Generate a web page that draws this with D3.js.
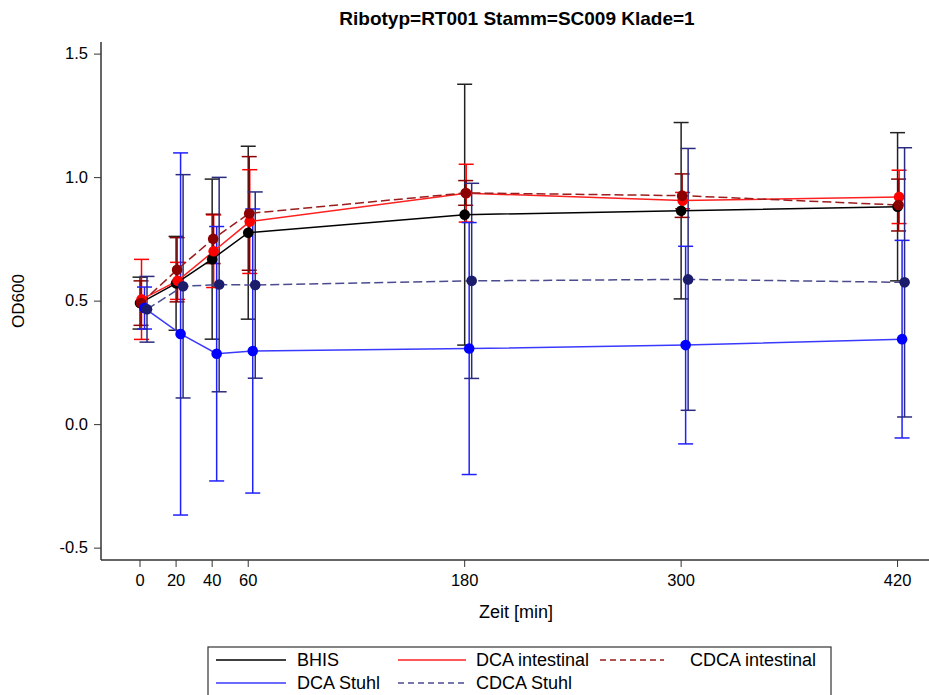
<!DOCTYPE html>
<html>
<head>
<meta charset="utf-8">
<script src="https://cdn.jsdelivr.net/npm/d3@7"></script>
<style>
  body { margin: 0; background: #fff; }
  text { font-family: "Liberation Sans", Arial, sans-serif; fill: #000; }
</style>
</head>
<body>
<svg id="chart" width="929" height="695"></svg>
<script>
// ---------- data ----------
const times = [0, 20, 40, 60, 180, 300, 420];
const xTickLabels = ["0", "20", "40", "60", "180", "300", "420"];
const yTickValues = [-0.5, 0.0, 0.5, 1.0, 1.5];
const yTickLabels = ["-0.5", "0.0", "0.5", "1.0", "1.5"];

const bhisMean      = [0.490, 0.570, 0.668, 0.775, 0.848, 0.864, 0.880];
const bhisErr       = [0.105, 0.190, 0.324, 0.350, 0.528, 0.357, 0.300];
const dcaIntMean    = [0.505, 0.580, 0.700, 0.820, 0.935, 0.905, 0.920];
const dcaIntErr     = [0.162, 0.075, 0.147, 0.210, 0.117, 0.033, 0.108];
const cdcaIntMean   = [0.490, 0.625, 0.750, 0.853, 0.936, 0.925, 0.887];
const cdcaIntErr    = [0.090, 0.130, 0.100, 0.230, 0.050, 0.088, 0.105];
const dcaStuhlMean  = [0.470, 0.365, 0.285, 0.296, 0.306, 0.320, 0.344];
const dcaStuhlErr   = [0.085, 0.733, 0.515, 0.575, 0.510, 0.400, 0.400];
const cdcaStuhlMean = [0.465, 0.558, 0.565, 0.563, 0.580, 0.586, 0.574];
const cdcaStuhlErr  = [0.133, 0.452, 0.434, 0.377, 0.395, 0.530, 0.545];

const seriesNames = ["BHIS", "DCA intestinal", "CDCA intestinal", "DCA Stuhl", "CDCA Stuhl"];

// ---------- styling / config ----------
const series = [
  { name: seriesNames[0], mean: bhisMean,      err: bhisErr,      color: "#000000", bar: "#222222", marker: "#000000", dash: null,  shift: 0.5 },
  { name: seriesNames[1], mean: dcaIntMean,    err: dcaIntErr,    color: "#ff2020", bar: "#ff0000", marker: "#ff0000", dash: null,  shift: 2 },
  { name: seriesNames[2], mean: cdcaIntMean,   err: cdcaIntErr,   color: "#9b1c1c", bar: "#8b0000", marker: "#8b0000", dash: "9,4", shift: 1.5 },
  { name: seriesNames[3], mean: dcaStuhlMean,  err: dcaStuhlErr,  color: "#3a3aff", bar: "#2020ff", marker: "#0000ff", dash: null,  shift: 5 },
  { name: seriesNames[4], mean: cdcaStuhlMean, err: cdcaStuhlErr, color: "#4b4b90", bar: "#2a2a80", marker: "#1c1c6c", dash: "9,4", shift: 7.5 }
];

const svg = d3.select("#chart");
const pLeft = 101, pRight = 929, pTop = 42, pBottom = 560;
const FONT = "'Liberation Sans', Arial, sans-serif";

const x = d3.scaleLinear().domain([-21.35, 437.7]).range([pLeft, pRight]);
const y = d3.scaleLinear().domain([-0.55, 1.547]).range([pBottom, pTop]);

// title
svg.append("text")
  .attr("x", 517).attr("y", 25)
  .attr("text-anchor", "middle")
  .style("font-size", "19px").style("font-weight", "bold")
  .text("Ribotyp=RT001 Stamm=SC009 Klade=1");

// axes
const yAxis = d3.axisLeft(y).tickValues(yTickValues).tickFormat((d, i) => yTickLabels[i])
  .tickSize(7).tickSizeOuter(0).tickPadding(6);
const gy = svg.append("g").attr("transform", `translate(${pLeft},0)`).call(yAxis);
gy.select(".domain").remove();
gy.selectAll("line").attr("stroke", "#333");
gy.selectAll("text").style("font-size", "16.5px").style("font-family", FONT).attr("fill", "#333");

const xAxis = d3.axisBottom(x).tickValues(times).tickFormat((d, i) => xTickLabels[i])
  .tickSize(7).tickSizeOuter(0).tickPadding(7);
const gx = svg.append("g").attr("transform", `translate(0,${pBottom})`).call(xAxis);
gx.select(".domain").remove();
gx.selectAll("line").attr("stroke", "#333");
gx.selectAll("text").style("font-size", "16.5px").style("font-family", FONT).attr("fill", "#333");

// axis lines
svg.append("line").attr("x1", pLeft).attr("x2", pLeft).attr("y1", pTop).attr("y2", pBottom)
  .attr("stroke", "#333").attr("stroke-width", 1.5);
svg.append("line").attr("x1", pLeft).attr("x2", pRight).attr("y1", pBottom).attr("y2", pBottom)
  .attr("stroke", "#333").attr("stroke-width", 1.5);

// axis labels
svg.append("text").attr("x", 516).attr("y", 618).attr("text-anchor", "middle")
  .style("font-size", "18px").attr("fill", "#333").text("Zeit [min]");
svg.append("text").attr("transform", `translate(24,${(pTop + pBottom) / 2}) rotate(-90)`)
  .attr("text-anchor", "middle").style("font-size", "17px").attr("fill", "#333").text("OD600");

// plot
const plot = svg.append("g");
const capW = 7.5;

series.forEach(s => {
  const pts = times.map((t, i) => ({ t, m: s.mean[i], e: s.err[i] }));
  const g = plot.append("g");
  pts.forEach(p => {
    const px = x(p.t) + s.shift;
    g.append("line").attr("x1", px).attr("x2", px).attr("y1", y(p.m - p.e)).attr("y2", y(p.m + p.e))
      .attr("stroke", s.bar).attr("stroke-width", 1.5);
    [p.m - p.e, p.m + p.e].forEach(v => {
      g.append("line").attr("x1", px - capW).attr("x2", px + capW).attr("y1", y(v)).attr("y2", y(v))
        .attr("stroke", s.bar).attr("stroke-width", 1.5);
    });
  });
});

series.forEach(s => {
  const pts = times.map((t, i) => ({ t, m: s.mean[i] }));
  const line = d3.line().x(d => x(d.t) + s.shift).y(d => y(d.m));
  plot.append("path").datum(pts).attr("d", line)
    .attr("fill", "none").attr("stroke", s.color).attr("stroke-width", 1.5)
    .attr("stroke-dasharray", s.dash);
});

series.forEach(s => {
  const pts = times.map((t, i) => ({ t, m: s.mean[i] }));
  plot.append("g").selectAll("circle").data(pts).join("circle")
    .attr("cx", d => x(d.t) + s.shift).attr("cy", d => y(d.m)).attr("r", 5.3)
    .attr("fill", s.marker);
});

// legend
const lg = svg.append("g");
lg.append("rect").attr("x", 208).attr("y", 647).attr("width", 623).attr("height", 60)
  .attr("fill", "none").attr("stroke", "#333").attr("stroke-width", 1.2);
const legendPos = [
  { x1: 216, x2: 286, tx: 297, ty: 660 },
  { x1: 398, x2: 466, tx: 476, ty: 660 },
  { x1: 600, x2: 664, tx: 690, ty: 660 },
  { x1: 216, x2: 286, tx: 297, ty: 683 },
  { x1: 398, x2: 466, tx: 476, ty: 683 }
];
series.forEach((s, i) => {
  const p = legendPos[i];
  lg.append("line").attr("x1", p.x1).attr("x2", p.x2).attr("y1", p.ty).attr("y2", p.ty)
    .attr("stroke", s.color).attr("stroke-width", 1.5).attr("stroke-dasharray", s.dash ? "6,4" : null);
  lg.append("text").attr("x", p.tx).attr("y", p.ty).attr("dy", "0.36em")
    .style("font-size", "18px").attr("fill", "#222").text(s.name);
});
</script>
</body>
</html>
